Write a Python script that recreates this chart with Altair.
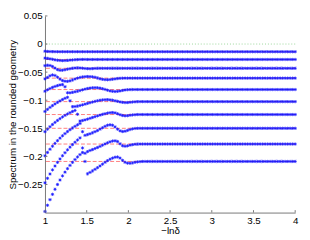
import altair as alt
import pandas as pd

# sampling grid of -ln(delta)
X_START = 1.0
X_STEP = 0.03
N_POINTS = 101

# asymptotic levels (red dashed lines)
LEVELS = [-0.0137, -0.0275, -0.0432, -0.0607, -0.081, -0.1025, -0.1255, -0.150, -0.178, -0.209]

# transient part of each eigenvalue branch, then flat at its level
C1 = [-0.0128, -0.0132, -0.0134, -0.0135, -0.0136]
C2 = [-0.0250, -0.0256, -0.0263, -0.0272, -0.0281, -0.0288, -0.0293, -0.0295, -0.0294, -0.0291,
      -0.0287, -0.0283, -0.0279, -0.0277, -0.0275, -0.0274, -0.0274]
C3 = [-0.0385, -0.0378, -0.0382, -0.0400, -0.0428, -0.0455, -0.0468, -0.0466, -0.0458, -0.0448,
      -0.0439, -0.0432, -0.0427, -0.0425, -0.0426, -0.0430, -0.0435, -0.0438, -0.0439, -0.0437,
      -0.0434]
C4 = [-0.0620, -0.0595, -0.0565, -0.0550, -0.0560, -0.0590, -0.0625, -0.0650, -0.0662, -0.0664,
      -0.0655, -0.0640, -0.0622, -0.0607, -0.0595, -0.0586, -0.0581, -0.0579, -0.0580, -0.0584,
      -0.0592, -0.0605, -0.0618, -0.0628, -0.0634, -0.0636, -0.0633, -0.0627, -0.0620, -0.0614,
      -0.0610, -0.0608]
C5 = [-0.0840, -0.0815, -0.0792, -0.0772, -0.0755, -0.0740, -0.0728, -0.0722, -0.0760, -0.0868,
      -0.0868, -0.0860, -0.0850, -0.0840, -0.0828, -0.0815, -0.0803, -0.0792, -0.0784, -0.0779,
      -0.0777, -0.0779, -0.0785, -0.0795, -0.0808, -0.0822, -0.0834, -0.0842, -0.0845, -0.0842,
      -0.0835, -0.0826, -0.0818, -0.0813, -0.0811]
C6 = [-0.1200, -0.1163, -0.1128, -0.1096, -0.1066, -0.1038, -0.1012, -0.0988, -0.0966, -0.0948,
      -0.1010, -0.1115, -0.1112, -0.1105, -0.1095, -0.1083, -0.1070, -0.1057, -0.1044, -0.1032,
      -0.1021, -0.1010, -0.1001, -0.0995, -0.0991, -0.0990, -0.0993, -0.1000, -0.1010, -0.1020,
      -0.1030, -0.1038, -0.1042, -0.1041, -0.1037, -0.1032, -0.1028, -0.1026]
C7 = [-0.1560, -0.1515, -0.1472, -0.1432, -0.1395, -0.1360, -0.1328, -0.1298, -0.1270, -0.1245,
      -0.1222, -0.1200, -0.1182, -0.1250, -0.1370, -0.1362, -0.1350, -0.1337, -0.1322, -0.1307,
      -0.1293, -0.1279, -0.1265, -0.1252, -0.1240, -0.1230, -0.1222, -0.1220, -0.1225, -0.1240,
      -0.1258, -0.1272, -0.1278, -0.1275, -0.1268, -0.1262, -0.1258]
C8 = [-0.1990, -0.1930, -0.1873, -0.1819, -0.1768, -0.1720, -0.1675, -0.1633, -0.1594, -0.1558,
      -0.1525, -0.1494, -0.1465, -0.1438, -0.1414, -0.1560, -0.1625, -0.1612, -0.1597, -0.1580,
      -0.1560, -0.1540, -0.1515, -0.1490, -0.1465, -0.1445, -0.1437, -0.1445, -0.1475, -0.1515,
      -0.1545, -0.1557, -0.1552, -0.1538, -0.1522, -0.1510, -0.1503]
C9 = [-0.2470, -0.2390, -0.2313, -0.2240, -0.2171, -0.2106, -0.2045, -0.1988, -0.1934, -0.1883,
      -0.1835, -0.1790, -0.1748, -0.1708, -0.1670, -0.1850, -0.1945, -0.1915, -0.1895, -0.1878,
      -0.1860, -0.1842, -0.1822, -0.1800, -0.1778, -0.1758, -0.1740, -0.1727, -0.1722, -0.1735,
      -0.1775, -0.1810, -0.1820, -0.1812, -0.1800, -0.1790, -0.1784, -0.1781]
C10 = [-0.2980, -0.2870, -0.2770, -0.2675, -0.2585, -0.2500, -0.2420, -0.2347, -0.2280, -0.2218,
       -0.2160, -0.2106, -0.2056, -0.2010, -0.1968, -0.1930, -0.2090, -0.2310, -0.2285, -0.2258,
       -0.2230, -0.2200, -0.2170, -0.2138, -0.2105, -0.2075, -0.2050, -0.2030, -0.2015, -0.2010,
       -0.2030, -0.2070, -0.2105, -0.2120, -0.2122, -0.2115, -0.2105, -0.2098, -0.2093]

HEADS = [C1, C2, C3, C4, C5, C6, C7, C8, C9, C10]

X_TICKS = [1, 1.5, 2, 2.5, 3, 3.5, 4]
Y_TICKS = [0.05, 0, -0.05, -0.1, -0.15, -0.2, -0.25]

X_TITLE = "\u2212ln\u03b4"
Y_TITLE = "Spectrum in the rounded geometry"

rows = []
for k, (head, lev) in enumerate(zip(HEADS, LEVELS)):
    vals = head + [lev] * (N_POINTS - len(head))
    for i, v in enumerate(vals):
        rows.append({"branch": k + 1, "x": round(X_START + X_STEP * i, 2), "y": v})
df = pd.DataFrame(rows)

W, H = 257, 202
FONT = "Liberation Sans"
AXIS_COLOR = "#777777"

xscale = alt.Scale(domain=[1, 4], nice=False, zero=False)
yscale = alt.Scale(domain=[-0.3, 0.05], nice=False, zero=False)

x_axis = alt.Axis(values=X_TICKS, format="~g", grid=False, ticks=False, tickSize=0,
                  domainColor=AXIS_COLOR, domainWidth=1, labelFont=FONT, labelFontSize=10,
                  labelColor="#000000", labelPadding=3, labelFlush=False, labelOverlap=False,
                  title=X_TITLE, titleFont=FONT, titleFontSize=10, titleFontWeight="normal",
                  titleColor="#000000", titleBaseline="top", titleY=14)
y_axis = alt.Axis(values=Y_TICKS, format="~g", grid=False, ticks=False, tickSize=0,
                  domainColor=AXIS_COLOR, domainWidth=1, labelFont=FONT, labelFontSize=10,
                  labelColor="#000000", labelPadding=3, labelFlush=False, labelOverlap=False,
                  title=Y_TITLE, titleFont=FONT, titleFontSize=10, titleFontWeight="normal",
                  titleColor="#000000", titleAngle=-90, titleAlign="center",
                  titleBaseline="middle", titleX=-33, titleY=H / 2)

zero_line = alt.Chart(pd.DataFrame({"y": [0.0]})).mark_rule(
    color="#99d699", strokeWidth=1, strokeDash=[1, 2]
).encode(y=alt.Y("y:Q", scale=yscale, axis=y_axis))

level_lines = alt.Chart(pd.DataFrame({"level": LEVELS})).mark_rule(
    color="#ff5555", strokeWidth=0.9, strokeDash=[4, 2], opacity=0.85
).encode(y=alt.Y("level:Q", scale=yscale, axis=y_axis))

ASTERISK = "M-1,0L1,0M0,-1L0,1M-0.7,-0.7L0.7,0.7M-0.7,0.7L0.7,-0.7"
points = alt.Chart(df).mark_point(
    shape=ASTERISK, filled=False, size=11, strokeWidth=0.8, color="#1010ff", opacity=0.95
).encode(
    x=alt.X("x:Q", scale=xscale, axis=x_axis),
    y=alt.Y("y:Q", scale=yscale, axis=y_axis),
    detail="branch:N",
)

xt = alt.Chart(pd.DataFrame({"t": X_TICKS})).mark_rule(color=AXIS_COLOR, strokeWidth=1).encode(
    x=alt.X("t:Q", scale=xscale, axis=x_axis), y=alt.value(H), y2=alt.value(H - 2.5)
)
yt = alt.Chart(pd.DataFrame({"t": Y_TICKS})).mark_rule(color=AXIS_COLOR, strokeWidth=1).encode(
    y=alt.Y("t:Q", scale=yscale, axis=y_axis), x=alt.value(0), x2=alt.value(2.5)
)

chart = alt.layer(zero_line, level_lines, points, xt, yt).properties(
    width=W, height=H,
    autosize=alt.AutoSizeParams(type="none"),
    padding={"left": 38, "top": 5, "right": 7, "bottom": 25},
).configure_view(stroke=None).configure_axis(labelOverlap=False)

chart.save("out.html", embed_options={"renderer": "svg", "actions": False})
